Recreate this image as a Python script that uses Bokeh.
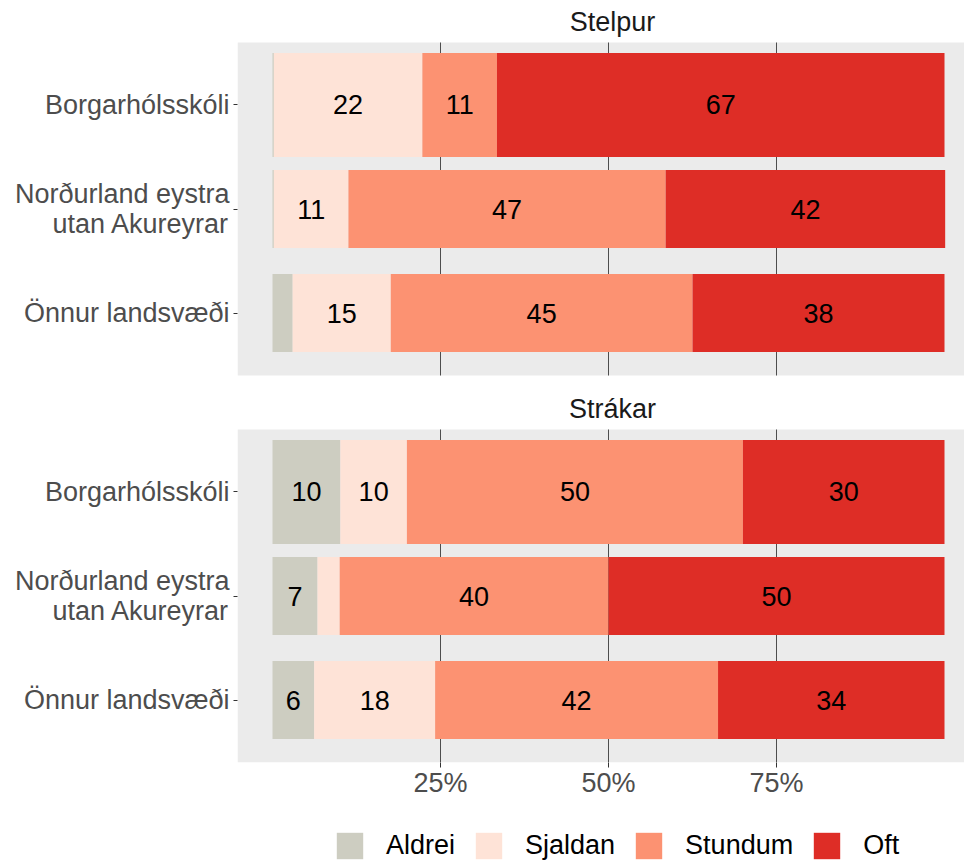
from bokeh.plotting import figure
from bokeh.models import ColumnDataSource, Range1d, FixedTicker, Legend, LegendItem, BoxAnnotation
from bokeh.layouts import column
from bokeh.embed import file_html
from bokeh.resources import INLINE
from bokeh.core.properties import value

# ---------------- data ----------------
categories = ["Borgarhólsskóli", "Norðurland eystra\nutan Akureyrar", "Önnur landsvæði"]
levels = ["Aldrei", "Sjaldan", "Stundum", "Oft"]
panel_titles = ["Stelpur", "Strákar"]

stelpur_aldrei = [0.2, 0.2, 3.0]
stelpur_sjaldan = [22.1, 11.1, 14.6]
stelpur_stundum = [11.1, 47.2, 44.9]
stelpur_oft = [66.6, 41.6, 37.5]

strakar_aldrei = [10.1, 6.7, 6.2]
strakar_sjaldan = [9.9, 3.3, 18.0]
strakar_stundum = [50.0, 40.0, 42.1]
strakar_oft = [30.0, 50.0, 33.7]

x_ticks = [25, 50, 75]
x_tick_labels = ["25%", "50%", "75%"]

# ---------------- style / layout ----------------
colors = ["#CDCDC1", "#FEE3D7", "#FC9272", "#DE2D26"]
bar_heights = [1.0, 0.75, 0.75]
FONT = "Liberation Sans"
W = 964
H_MAIN = 800
H_LEG = 62
BORDER_LEFT = 237
FRAME_BOTTOM = 762
PANEL_PX = 333.0
UNIT = PANEL_PX / 3.2            # px per row unit
TOP_PX = 42.0                     # space above first panel
GAP_PX = 54.0                     # space between panels
STRIP_PX = 21.0                   # strip title above its panel
PX_PER_PCT = 6.72
ZERO_PX = 272
X0 = (BORDER_LEFT - ZERO_PX) / PX_PER_PCT
X1 = (W - ZERO_PX) / PX_PER_PCT
LABEL_MIN = 5
LEGEND_LEFT = 333

panel_data = {
    "Stelpur": [stelpur_aldrei, stelpur_sjaldan, stelpur_stundum, stelpur_oft],
    "Strákar": [strakar_aldrei, strakar_sjaldan, strakar_stundum, strakar_oft],
}

n = len(categories)
panel_span = n + 0.2
offsets = [k * (panel_span + GAP_PX / UNIT) for k in range(len(panel_titles))]
y_top = 0.4 - TOP_PX / UNIT
y_bottom = offsets[-1] + n + 0.6

p = figure(width=W, height=H_MAIN, x_range=Range1d(X0, X1), y_range=Range1d(y_bottom, y_top),
           output_backend="svg", toolbar_location=None,
           min_border_left=BORDER_LEFT, min_border_right=0,
           min_border_top=0, min_border_bottom=H_MAIN - FRAME_BOTTOM)
p.background_fill_color = "white"
p.border_fill_color = "white"
p.outline_line_color = None
p.xgrid.visible = False
p.ygrid.visible = False

sources = []
tick_pos, tick_lab = [], []
for title, off in zip(panel_titles, offsets):
    top = off + 0.4
    bot = off + n + 0.6
    p.add_layout(BoxAnnotation(top=top, bottom=bot, fill_color="#EBEBEB", fill_alpha=1.0,
                               line_color=None, level="underlay"))
    # grid lines restricted to this panel
    p.segment(x0=x_ticks, x1=x_ticks, y0=[top] * len(x_ticks), y1=[bot] * len(x_ticks),
              line_color="#4D4D4D", line_width=1)
    # strip title
    p.text(x=[50.6], y=[top - STRIP_PX / UNIT], text=[title], text_align="center",
           text_baseline="alphabetic", text_font=value(FONT), text_font_size="27px",
           text_color="#1A1A1A")

    data = panel_data[title]
    ypos = [i + 1 + off for i in range(n)]
    src = dict(y=ypos, h=bar_heights)
    for lv, vals in zip(levels, data):
        src[lv] = vals
    sources.append(src)
    p.hbar_stack(levels, y="y", height="h", color=colors, line_color=None,
                 source=ColumnDataSource(src))

    lx, ly, lt = [], [], []
    for i, yv in enumerate(ypos):
        cum = 0.0
        for vals in data:
            v = vals[i]
            if v >= LABEL_MIN:
                lx.append(cum + v / 2)
                ly.append(yv)
                lt.append(f"{v:.0f}")
            cum += v
    p.text(x=lx, y=ly, text=lt, text_align="center", text_baseline="middle",
           text_font=value(FONT), text_font_size="27px", text_color="black")

    tick_pos += ypos
    tick_lab += categories

# axes
p.xaxis.ticker = FixedTicker(ticks=x_ticks)
p.xaxis.major_label_overrides = {t: s for t, s in zip(x_ticks, x_tick_labels)}
p.xaxis.axis_line_color = None
p.xaxis.major_tick_line_color = "#333333"
p.xaxis.major_tick_in = 0
p.xaxis.major_tick_out = 5
p.xaxis.minor_tick_line_color = None
p.xaxis.major_label_text_font = FONT
p.xaxis.major_label_text_font_size = "27px"
p.xaxis.major_label_text_color = "#4D4D4D"
p.xaxis.major_label_standoff = 0

p.yaxis.ticker = FixedTicker(ticks=tick_pos)
p.yaxis.major_label_overrides = {y: c for y, c in zip(tick_pos, tick_lab)}
p.yaxis.axis_line_color = None
p.yaxis.major_tick_line_color = "#333333"
p.yaxis.major_tick_in = 0
p.yaxis.major_tick_out = 4
p.yaxis.minor_tick_line_color = None
p.yaxis.major_label_text_font = FONT
p.yaxis.major_label_text_font_size = "27px"
p.yaxis.major_label_text_color = "#4D4D4D"
p.yaxis.major_label_text_line_height = 1.0
p.yaxis.major_label_standoff = 4

# ---------------- legend strip ----------------
# (the legend strip's frame is aligned with the main frame by the column layout;
#  its bars are the same stacked data, kept outside the strip's visible range)
pl = figure(width=W, height=H_LEG, x_range=Range1d(X0, X1), y_range=Range1d(100, 101),
            output_backend="svg", toolbar_location=None,
            min_border_left=0, min_border_right=0, min_border_top=0, min_border_bottom=0)
pl.axis.visible = False
pl.grid.visible = False
pl.outline_line_color = None
pl.background_fill_color = "white"
pl.border_fill_color = "white"

leg_rs = pl.hbar_stack(levels, y="y", height="h", color=colors, line_color=None,
                       source=ColumnDataSource(sources[0]))
items = [LegendItem(label=lv, renderers=[r]) for lv, r in zip(levels, leg_rs)]

legend = Legend(items=items, orientation="horizontal", location=(LEGEND_LEFT - BORDER_LEFT, 0),
                glyph_width=33, glyph_height=33, label_standoff=20, spacing=17,
                label_text_font=FONT, label_text_font_size="27px",
                label_text_color="black",
                border_line_color=None, background_fill_alpha=0,
                padding=0, margin=0)
pl.add_layout(legend, "center")

layout = column(p, pl, spacing=0)
open("out.html", "w").write(file_html(layout, INLINE))
